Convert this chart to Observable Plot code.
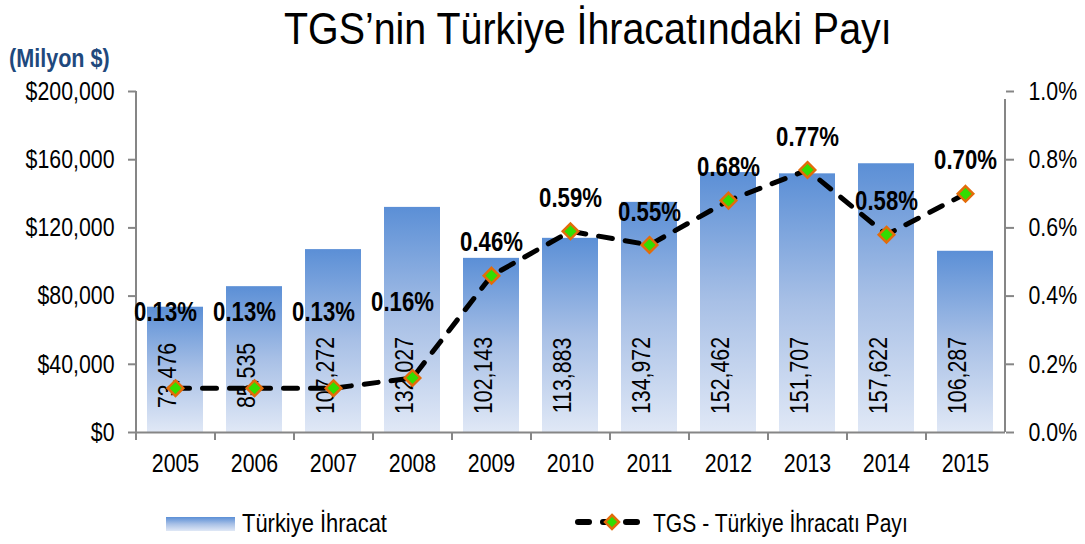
<!DOCTYPE html>
<html>
<head>
<meta charset="utf-8">
<script src="https://cdn.jsdelivr.net/npm/d3@7"></script>
<script src="https://cdn.jsdelivr.net/npm/@observablehq/plot@0.6"></script>
<style>
  body { margin: 0; background: #fff; }
  #wrap { position: relative; width: 1085px; height: 544px; overflow: hidden;
          font-family: "Liberation Sans", Arial, sans-serif; }
  .sq { position: absolute; display: inline-block; white-space: nowrap; transform-origin: 0 0; line-height: 1; }
  #title { left: 284px; top: 6px; font-size: 45px; color: #000; }
  #unit { left: 9px; top: 46px; font-size: 25px; font-weight: bold; color: #1f497d; }
  #chart { position: absolute; left: 0; top: 0; }
  .leg { top: 510px; font-size: 26px; color: #000; }
  #sw1 { position: absolute; left: 166px; top: 517px; width: 69px; height: 14px;
         background: linear-gradient(#5b8fd6, #a8c0e6 50%, #e0e8f6); }
</style>
</head>
<body>
<div id="wrap">
  <div id="chart"></div>
  <div id="title" class="sq" data-w="607">TGS’nin Türkiye İhracatındaki Payı</div>
  <div id="unit" class="sq" data-w="101">(Milyon $)</div>
  <div id="sw1"></div>
  <div class="sq leg" style="left:242px" data-w="145">Türkiye İhracat</div>
  <svg style="position:absolute;left:570px;top:510px" width="76" height="24">
    <line x1="8" y1="12" x2="19" y2="12" stroke="#000" stroke-width="6" stroke-linecap="round"/>
    <line x1="56" y1="12" x2="67" y2="12" stroke="#000" stroke-width="6" stroke-linecap="round"/>
    <line x1="33" y1="12" x2="37" y2="12" stroke="#000" stroke-width="6" stroke-linecap="round"/>
    <path d="M42 5 L49 12 L42 19 L35 12 Z" fill="#33dd00" stroke="#e36c09" stroke-width="2.5"/>
  </svg>
  <div class="sq leg" style="left:653px" data-w="255">TGS - Türkiye İhracatı Payı</div>
</div>
<script>
const FONT = '"Liberation Sans", Arial, sans-serif';
const NARROW = 0.82;

// Data
const years = ["2005","2006","2007","2008","2009","2010","2011","2012","2013","2014","2015"];
const exportsMn = [73476, 85535, 107272, 132027, 102143, 113883, 134972, 152462, 151707, 157622, 106287];
const sharePct = [0.13, 0.13, 0.13, 0.16, 0.46, 0.59, 0.55, 0.68, 0.77, 0.58, 0.70];
const leftTicks = [0, 40000, 80000, 120000, 160000, 200000];
const rightTicks = [0, 0.2, 0.4, 0.6, 0.8, 1.0];

const leftMax = 200000, rightMax = 1.0;
const data = years.map((y, i) => ({
  year: y,
  exp: exportsMn[i],
  pct: sharePct[i],
  pctY: sharePct[i] / rightMax * leftMax
}));

const W = 1085, H = 544, mL = 136, mR = 80;
const half = (W - mL - mR) / years.length / 2;
const gray = "#868686";

const chart = Plot.plot({
  width: W, height: H,
  marginTop: 91, marginBottom: 112, marginLeft: mL, marginRight: mR,
  style: { fontFamily: FONT, fontSize: "26px", color: "black", background: "transparent", overflow: "visible" },
  x: { domain: years, paddingInner: 0.29, paddingOuter: 0.145, axis: null, label: null },
  y: { domain: [0, leftMax], axis: null, label: null },
  marks: [
    Plot.barY(data, { x: "year", y: "exp", fill: "url(#barGrad)" }),
    Plot.text(data, { x: "year", text: d => d3.format(",")(d.exp), frameAnchor: "bottom", dy: -57,
                      rotate: -90, fontSize: 26, fill: "black" }),
    // axis lines
    Plot.ruleY([0], { stroke: gray, strokeWidth: 2 }),
    Plot.ruleX([years[0]], { x: d => d, y1: 0, y2: leftMax, dx: -half, stroke: gray, strokeWidth: 2 }),
    Plot.ruleX([years[years.length - 1]], { x: d => d, y1: 0, y2: leftMax, dx: half, stroke: gray, strokeWidth: 2, insetBottom: -8 }),
    Plot.ruleX(years, { x: d => d, y1: 0, y2: 0, dx: -half, insetBottom: -8, stroke: gray, strokeWidth: 2 }),
    Plot.axisX({ tickSize: 0, tickPadding: 21, fontSize: 26, fill: "black", label: null }),
    Plot.axisY({ ticks: leftTicks, anchor: "left", tickSize: 8, tickPadding: 14, stroke: gray, strokeWidth: 2,
                 fill: "black", fontSize: 26, label: null, tickFormat: d => "$" + d3.format(",")(d) }),
    Plot.axisY({ ticks: rightTicks.map(t => t / rightMax * leftMax), anchor: "right", tickSize: 8, tickPadding: 15,
                 stroke: gray, strokeWidth: 2, fill: "black", fontSize: 26, label: null,
                 tickFormat: d => (d / leftMax * rightMax).toFixed(1) + "%" }),
    // share line
    Plot.line(data, { x: "year", y: "pctY", stroke: "black", strokeWidth: 5,
                      strokeDasharray: "14,13", strokeLinecap: "round" }),
    Plot.dot(data, { x: "year", y: "pctY", symbol: "diamond2", r: 7, fill: "#33dd00",
                     stroke: "#e36c09", strokeWidth: 2.5 }),
    Plot.text(data.filter(d => +d.year <= 2008), { x: "year", y: "pctY", text: d => d.pct.toFixed(2) + "%",
                      dy: -76, dx: -10, fontSize: 27, fontWeight: "bold", fill: "black" }),
    Plot.text(data.filter(d => +d.year > 2008), { x: "year", y: "pctY", text: d => d.pct.toFixed(2) + "%",
                      dy: -33, fontSize: 27, fontWeight: "bold", fill: "black" })
  ]
});

const svgNS = "http://www.w3.org/2000/svg";
const defs = document.createElementNS(svgNS, "defs");
defs.innerHTML = '<linearGradient id="barGrad" x1="0" y1="0" x2="0" y2="1">' +
  '<stop offset="0" stop-color="#5b8fd6"/><stop offset="0.5" stop-color="#a8c0e6"/>' +
  '<stop offset="1" stop-color="#e0e8f6"/></linearGradient>';
chart.insertBefore(defs, chart.firstChild);
document.getElementById("chart").appendChild(chart);

// Narrow (Arial Narrow-like) rendering: compress glyphs horizontally
chart.querySelectorAll("text").forEach(t => {
  const len = t.getComputedTextLength();
  if (len > 0) {
    t.setAttribute("textLength", (len * NARROW).toFixed(1));
    t.setAttribute("lengthAdjust", "spacingAndGlyphs");
  }
});
document.querySelectorAll(".sq").forEach(el => {
  const target = +el.dataset.w;
  const s = target ? target / el.offsetWidth : NARROW;
  el.style.transform = `scaleX(${s.toFixed(3)})`;
});
</script>
</body>
</html>
